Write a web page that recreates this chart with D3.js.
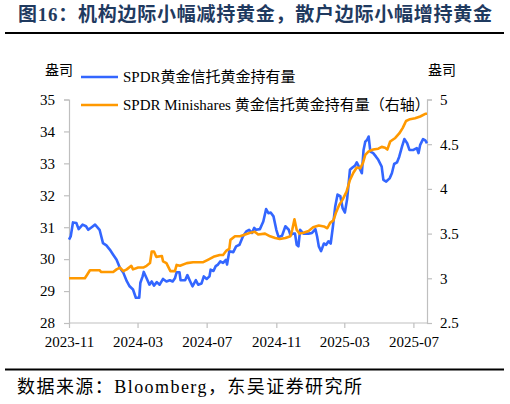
<!DOCTYPE html>
<html>
<head>
<meta charset="utf-8">
<script src="https://cdn.jsdelivr.net/npm/d3@7"></script>
<style>
  body { margin: 0; background: #fff; }
  svg { display: block; }
  .serif { font-family: "Liberation Serif", "Times New Roman", "Noto Sans CJK SC", serif; }
</style>
</head>
<body>
<svg id="chart" width="510" height="404"></svg>
<script>
// tick labels on the time axis
const xTickLabels = ['2023-11', '2024-03', '2024-07', '2024-11', '2025-03', '2025-07'];
const leftTicks = [28, 29, 30, 31, 32, 33, 34, 35];
const rightTicks = [2.5, 3, 3.5, 4, 4.5, 5];

const seriesNames = ['SPDR黄金信托黄金持有量', 'SPDR Minishares 黄金信托黄金持有量（右轴）'];

// SPDR gold trust holdings (left axis, million oz)
const blueDates = [
  '2023-11-01', '2023-11-04', '2023-11-08', '2023-11-14', '2023-11-18', '2023-11-25', '2023-12-01',
  '2023-12-05', '2023-12-11', '2023-12-17', '2023-12-22', '2023-12-25', '2023-12-31', '2024-01-06',
  '2024-01-12', '2024-01-18', '2024-01-24', '2024-01-30', '2024-02-05', '2024-02-11', '2024-02-16',
  '2024-02-22', '2024-02-27', '2024-03-04', '2024-03-06', '2024-03-10', '2024-03-12', '2024-03-17',
  '2024-03-22', '2024-03-26', '2024-03-30', '2024-04-04', '2024-04-09', '2024-04-15', '2024-04-21',
  '2024-04-27', '2024-05-02', '2024-05-06', '2024-05-09', '2024-05-14', '2024-05-16', '2024-05-24',
  '2024-05-28', '2024-06-01', '2024-06-06', '2024-06-12', '2024-06-16', '2024-06-22', '2024-06-26',
  '2024-07-01', '2024-07-06', '2024-07-08', '2024-07-13', '2024-07-17', '2024-07-21', '2024-07-25',
  '2024-07-30', '2024-08-04', '2024-08-06', '2024-08-10', '2024-08-17', '2024-08-22', '2024-08-28',
  '2024-09-03', '2024-09-09', '2024-09-14', '2024-09-19', '2024-09-23', '2024-09-26', '2024-10-03',
  '2024-10-09', '2024-10-14', '2024-10-18', '2024-10-22', '2024-10-27', '2024-11-01', '2024-11-05',
  '2024-11-11', '2024-11-17', '2024-11-23', '2024-11-26', '2024-11-30', '2024-12-04', '2024-12-07',
  '2024-12-10', '2024-12-13', '2024-12-19', '2024-12-28', '2025-01-03', '2025-01-09', '2025-01-12',
  '2025-01-15', '2025-01-19', '2025-01-24', '2025-01-28', '2025-02-01', '2025-02-05', '2025-02-09',
  '2025-02-13', '2025-02-17', '2025-02-22', '2025-02-26', '2025-03-02', '2025-03-06', '2025-03-11',
  '2025-03-16', '2025-03-20', '2025-03-23', '2025-03-28', '2025-04-01', '2025-04-04', '2025-04-07',
  '2025-04-10', '2025-04-13', '2025-04-16', '2025-04-21', '2025-04-26', '2025-04-30', '2025-05-06',
  '2025-05-09', '2025-05-14', '2025-05-20', '2025-05-24', '2025-05-28', '2025-06-02', '2025-06-06',
  '2025-06-11', '2025-06-15', '2025-06-20', '2025-06-24', '2025-07-01', '2025-07-07', '2025-07-10',
  '2025-07-13', '2025-07-18', '2025-07-22', '2025-07-25'
];
const blueValues = [
  30.61, 30.71, 31.15, 31.13, 30.94, 31.08, 31.03,
  30.92, 31.0, 31.08, 30.98, 30.92, 30.5, 30.43,
  30.3, 30.14, 29.98, 29.72, 29.57, 29.31, 29.15,
  29.05, 28.79, 28.79, 29.26, 29.46, 29.6, 29.4,
  29.2, 29.3, 29.17, 29.28, 29.2, 29.38, 29.3,
  29.34, 29.3, 29.4, 29.59, 29.59, 29.34, 29.34,
  29.5, 29.34, 29.15, 29.34, 29.2, 29.24, 29.46,
  29.38, 29.46, 29.67, 29.63, 29.78, 29.83, 29.93,
  29.88, 29.98, 29.83, 30.25, 30.22, 30.4, 30.45,
  30.71, 30.87, 30.92, 30.82, 30.98, 30.92, 30.94,
  31.18, 31.57, 31.44, 31.46, 31.34, 30.92, 30.69,
  30.73, 31.03, 30.92, 30.75, 30.8, 30.8, 30.45,
  30.4, 30.92, 30.8, 30.8, 30.82, 30.94, 30.71,
  30.4, 30.25, 30.49, 30.45, 30.56, 30.49, 31.03,
  31.65, 32.02, 31.97, 31.6, 31.46, 31.88, 32.8,
  32.88, 32.93, 33.03, 32.85, 32.69, 33.42, 33.68,
  33.73, 33.84, 33.37, 33.32, 33.21, 33.11, 32.9,
  32.48, 32.43, 32.53, 32.69, 32.98, 33.03, 33.21,
  33.53, 33.76, 33.63, 33.42, 33.42, 33.48, 33.32,
  33.58, 33.76, 33.72, 33.63
];

// SPDR Minishares gold trust holdings (right axis, million oz)
const orangeDates = [
  '2023-11-01', '2023-11-23', '2023-11-29', '2023-12-03', '2023-12-08', '2023-12-25', '2023-12-28',
  '2024-01-18', '2024-01-24', '2024-01-30', '2024-02-05', '2024-02-11', '2024-02-19', '2024-02-22',
  '2024-03-02', '2024-03-11', '2024-03-17', '2024-03-23', '2024-03-26', '2024-03-30', '2024-04-03',
  '2024-04-13', '2024-04-15', '2024-04-21', '2024-04-28', '2024-05-06', '2024-05-09', '2024-05-15',
  '2024-05-27', '2024-06-07', '2024-06-25', '2024-07-04', '2024-07-13', '2024-07-24', '2024-07-30',
  '2024-08-05', '2024-08-10', '2024-08-12', '2024-08-20', '2024-08-29', '2024-09-07', '2024-09-16',
  '2024-09-24', '2024-09-30', '2024-10-12', '2024-10-21', '2024-10-30', '2024-11-07', '2024-11-17',
  '2024-11-26', '2024-11-29', '2024-12-03', '2024-12-07', '2024-12-12', '2024-12-19', '2024-12-28',
  '2025-01-05', '2025-01-15', '2025-01-24', '2025-01-30', '2025-02-04', '2025-02-10', '2025-02-14',
  '2025-02-20', '2025-02-26', '2025-03-05', '2025-03-11', '2025-03-17', '2025-03-23', '2025-03-29',
  '2025-04-03', '2025-04-07', '2025-04-13', '2025-04-21', '2025-04-30', '2025-05-06', '2025-05-12',
  '2025-05-16', '2025-05-21', '2025-05-30', '2025-06-06', '2025-06-12', '2025-06-18', '2025-06-25',
  '2025-07-04', '2025-07-13', '2025-07-22', '2025-07-25'
];
const orangeValues = [
  3.0, 3.0, 3.0, 3.04, 3.09, 3.09, 3.07,
  3.07, 3.10, 3.12, 3.08, 3.10, 3.14, 3.10,
  3.12, 3.12, 3.14, 3.17, 3.30, 3.30, 3.24,
  3.25, 3.19, 3.17, 3.08, 3.08, 3.15, 3.14,
  3.17, 3.18, 3.18, 3.21, 3.24, 3.26, 3.26,
  3.31, 3.33, 3.43, 3.47, 3.47, 3.49, 3.51,
  3.52, 3.49, 3.50, 3.47, 3.45, 3.44, 3.45,
  3.47, 3.54, 3.66, 3.54, 3.50, 3.51, 3.53,
  3.57, 3.59, 3.58, 3.56, 3.62, 3.65, 3.73,
  3.82, 3.88, 3.97, 4.10, 4.18, 4.24, 4.23,
  4.29, 4.38, 4.42, 4.44, 4.45, 4.47, 4.46,
  4.44, 4.53, 4.57, 4.62, 4.68, 4.76, 4.78,
  4.79, 4.81, 4.84, 4.84
];

const parseDay = d3.timeParse('%Y-%m-%d');
const parseMonth = d3.timeParse('%Y-%m');

const blueData = blueDates.map((d, i) => ({ date: parseDay(d), value: blueValues[i] }));
const orangeData = orangeDates.map((d, i) => ({ date: parseDay(d), value: orangeValues[i] }));

const svg = d3.select('#chart');
const plot = { left: 69, right: 427, top: 99.5, bottom: 323 };
const axisGrey = '#bfbfbf';

// title + rule
svg.append('text')
  .attr('x', 18)
  .attr('y', 21)
  .attr('textLength', 474)
  .attr('lengthAdjust', 'spacing')
  .style('font-family', '"Liberation Serif", "Noto Sans CJK SC", serif')
  .style('font-weight', 'bold')
  .style('font-size', '19px')
  .attr('fill', '#1f3a5f')
  .text('图16：机构边际小幅减持黄金，散户边际小幅增持黄金');

svg.append('line')
  .attr('x1', 5).attr('x2', 504)
  .attr('y1', 33).attr('y2', 33)
  .attr('stroke', '#000')
  .attr('stroke-width', 2);

// scales
const x = d3.scaleTime()
  .domain([parseDay('2023-11-01'), parseDay('2025-07-25')])
  .range([plot.left, plot.right]);
const yLeft = d3.scaleLinear().domain([28, 35]).range([plot.bottom, plot.top]);
const yRight = d3.scaleLinear().domain([2.5, 5]).range([plot.bottom, plot.top]);

// axes
const xAxis = d3.axisBottom(x)
  .tickValues(xTickLabels.map(parseMonth))
  .tickFormat(d3.timeFormat('%Y-%m'))
  .tickSize(5)
  .tickPadding(8);
const leftAxis = d3.axisLeft(yLeft).tickValues(leftTicks).tickFormat(d3.format('d')).tickSize(5).tickPadding(9);
const rightAxis = d3.axisRight(yRight).tickValues(rightTicks).tickFormat(d => d).tickSize(5).tickPadding(8);

function styleAxis(g) {
  g.select('.domain').attr('stroke', axisGrey).attr('stroke-width', 1.2);
  g.selectAll('.tick line').attr('stroke', axisGrey).attr('stroke-width', 1.2);
  g.selectAll('.tick text')
    .attr('fill', '#000')
    .style('font-family', '"Liberation Serif", "Times New Roman", serif')
    .style('font-size', '15px');
}

svg.append('g')
  .attr('transform', 'translate(0,' + plot.bottom + ')')
  .call(xAxis)
  .call(g => g.select('.domain').attr('d', 'M' + plot.left + ',0H' + plot.right))
  .call(styleAxis);

svg.append('g')
  .attr('transform', 'translate(' + plot.left + ',0)')
  .call(leftAxis)
  .call(styleAxis);

svg.append('g')
  .attr('transform', 'translate(' + plot.right + ',0)')
  .call(rightAxis)
  .call(styleAxis);

// unit labels
svg.append('text').attr('class', 'serif')
  .attr('x', 45).attr('y', 75)
  .style('font-size', '14px')
  .style('font-family', '"Noto Sans CJK SC", sans-serif')
  .text('盎司');
svg.append('text')
  .attr('x', 428).attr('y', 75)
  .style('font-size', '14px')
  .style('font-family', '"Noto Sans CJK SC", sans-serif')
  .text('盎司');

// lines
const lineLeft = d3.line().x(d => x(d.date)).y(d => yLeft(d.value));
const lineRight = d3.line().x(d => x(d.date)).y(d => yRight(d.value));

svg.append('path')
  .datum(blueData)
  .attr('d', lineLeft)
  .attr('fill', 'none')
  .attr('stroke', '#3366ff')
  .attr('stroke-width', 2.6)
  .attr('stroke-linejoin', 'round');

svg.append('path')
  .datum(orangeData)
  .attr('d', lineRight)
  .attr('fill', 'none')
  .attr('stroke', '#ff9900')
  .attr('stroke-width', 2.6)
  .attr('stroke-linejoin', 'round');

// legend
const legendColors = ['#3366ff', '#ff9900'];
const legend = svg.append('g');
seriesNames.forEach(function (name, i) {
  const ly = 77 + i * 28;
  legend.append('line')
    .attr('x1', 81).attr('x2', 118)
    .attr('y1', ly).attr('y2', ly)
    .attr('stroke', legendColors[i])
    .attr('stroke-width', 2.6);
  legend.append('text')
    .attr('class', 'serif')
    .attr('x', 123).attr('y', ly + 5)
    .style('font-size', '15px')
    .text(name);
});

// source + rule
svg.append('line')
  .attr('x1', 5).attr('x2', 504)
  .attr('y1', 369.5).attr('y2', 369.5)
  .attr('stroke', '#000')
  .attr('stroke-width', 2);

svg.append('text')
  .attr('class', 'serif')
  .attr('x', 17).attr('y', 393)
  .attr('textLength', 345)
  .attr('lengthAdjust', 'spacing')
  .style('font-size', '18px')
  .text('数据来源：Bloomberg，东吴证券研究所');
</script>
</body>
</html>
